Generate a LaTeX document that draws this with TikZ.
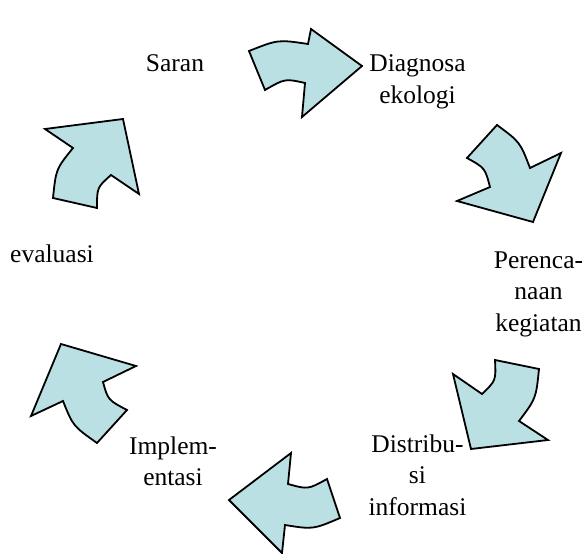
\documentclass[tikz,border=0pt]{standalone}
\usepackage{fontspec}
\setmainfont{Liberation Serif}
\definecolor{arrowfill}{RGB}{187,224,227}
\begin{document}
\begin{tikzpicture}[x=1pt,y=-1pt,
  blockarrow/.style={draw=black, fill=arrowfill, line width=1.8pt, line join=miter},
  lbl/.style={inner sep=0pt, align=center, font=\fontsize{25.5}{31.7}\selectfont, anchor=base}]
\useasboundingbox (0,0) rectangle (587,554);
% arrows
\path[blockarrow] (249,51) .. controls (278,39.5) .. (308,44) -- (311,29) -- (362,66) -- (302,117) -- (305,83) .. controls (285,78.5) .. (265,90) -- cycle;
\path[blockarrow] (497,125) .. controls (520,142) .. (530,168) -- (561,153) -- (533,222) -- (457,201) -- (490,187) .. controls (485,168) .. (467,158) -- cycle;
\path[blockarrow] (495,360) -- (539,369) .. controls (536,398.5) .. (519,421) -- (548,440) -- (471,449) -- (453,374) -- (482,394) .. controls (496,380.5) .. cycle;
\path[blockarrow] (291,453) -- (288,484) .. controls (308,489.5) .. (327,479) -- (340,518) .. controls (313,529.5) .. (285,525) -- (282,553) -- (229,500) -- cycle;
\path[blockarrow] (61,344) -- (136,366) -- (103,382) .. controls (108,400) .. (127,410) -- (97,443) .. controls (73,426) .. (63,401) -- (31,416) -- cycle;
\path[blockarrow] (45,129) -- (123,119) -- (139,194) -- (111,175) .. controls (97,187.5) .. (97,208) -- (53,198) .. controls (56,169) .. (73,148) -- cycle;
% labels (base = baseline of the last line)
\node[lbl] (saran) at (175,71.7) {Saran};
\node[lbl] (diag) at (417.5,103.6) {Diagnosa\\ekologi};
\node[lbl] (renc) at (538.5,331.4) {Perenca-\\naan\\kegiatan};
\node[lbl] (eval) at (52,262) {evaluasi};
\node[lbl] (impl) at (173,485.7) {Implem-\\entasi};
\node[lbl] (dist) at (417.5,515.4) {Distribu-\\si\\informasi};
\end{tikzpicture}
\end{document}
